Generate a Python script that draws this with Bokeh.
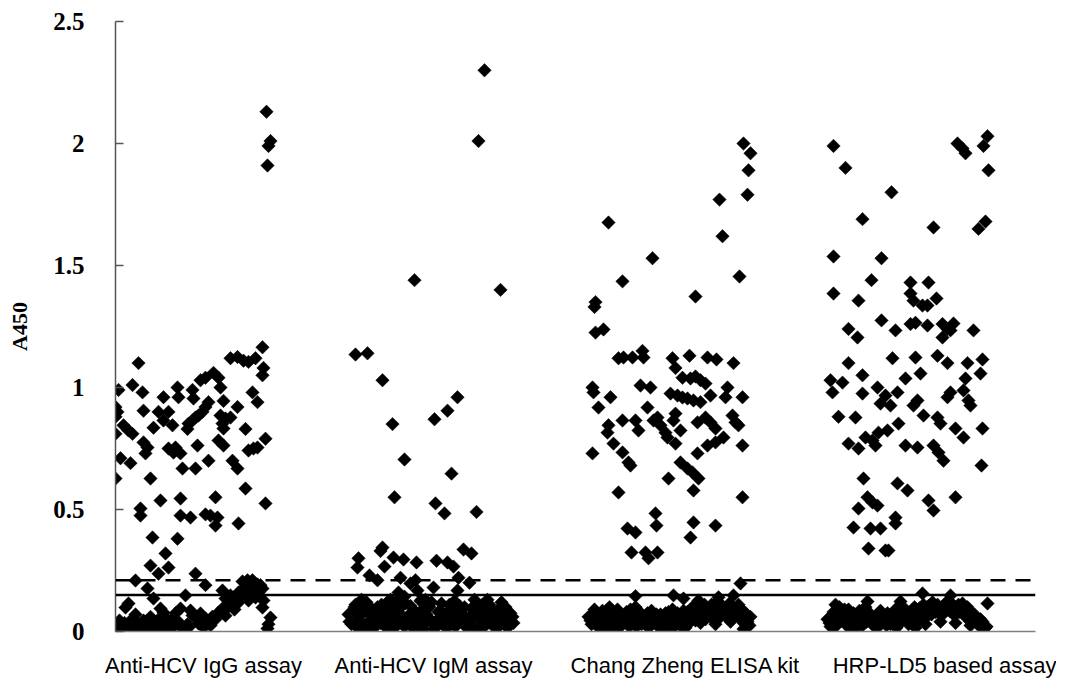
import numpy as np
from bokeh.plotting import figure
from bokeh.models import Range1d, Span, FixedTicker, ColumnDataSource
from bokeh.embed import file_html
from bokeh.resources import INLINE

# ---------------- data ----------------
categories = ["Anti-HCV IgG assay", "Anti-HCV IgM assay", "Chang Zheng ELISA kit", "HRP-LD5 based assay"]
category_pos = [8.8, 31.8, 57.0, 83.2]
y_ticks = [0, 0.5, 1, 1.5, 2, 2.5]
y_tick_labels = ["0", "0.5", "1", "1.5", "2", "2.5"]
cutoff_solid = 0.15
cutoff_dashed = 0.21

g1_x = [15.1, 15.5, 15.3, 15.2, 14.7, 11.5, 12.2, 12.8, 13.3, 14.0, 2.3, 14.8, 14.7, 9.8, 10.3, 10.5, 8.5, 9.0,
        1.7, 0.3, 6.2, 6.3, 7.7, 7.8, 2.7, 4.8, 13.7, 14.2, 10.8, 12.2, 9.3, 9.0, 8.7, 8.3, 8.0, 7.7, 7.3,
        0.0, 0.2, 0.0, 2.8, 4.3, 5.3, 4.8, 5.7, 3.8, 10.5, 11.0, 11.5, 10.7, 10.8, 0.8, 1.3, 1.7, 0.0, 7.2,
        13.0, 15.0, 2.8, 3.2, 3.0, 5.3, 6.0, 6.5, 5.8, 8.2, 10.3, 10.8, 13.3, 13.8, 14.2, 0.5, 1.5, 9.3, 11.7,
        12.2, 6.7, 8.0, 0.0, 3.5, 13.0, 4.5, 6.5, 10.0, 15.0, 2.5, 2.5, 6.5, 7.5, 9.0, 9.5, 10.2, 10.0, 12.3,
        3.7, 6.2, 5.0, 3.5, 5.3, 4.3, 8.0, 2.0, 9.0, 3.2,
        12.7, 13.2, 13.7, 14.2, 13.5, 12.8, 13.8, 14.3, 14.7, 13.0, 12.3, 14.0, 13.3,
        3.8, 7.0, 10.7, 11.0, 11.5, 11.8, 12.2, 1.3, 1.0, 4.5, 4.8, 5.0, 6.5, 7.5, 7.7, 8.5, 9.0, 9.7, 10.3,
        10.7, 11.3, 14.8, 14.7, 15.5, 15.2, 15.3,
        0.2, 0.6, 1.1, 1.6, 2.1, 2.6, 3.1, 3.6, 4.1, 4.5, 5.0, 5.5, 5.9, 6.3, 6.8, 7.2, 5.8, 4.3, 8.3, 8.8,
        9.5, 0.4, 2.8, 1.4]
g1_y = [2.13, 2.01, 1.99, 1.91, 1.165, 1.12, 1.125, 1.11, 1.105, 1.12, 1.10, 1.08, 1.05, 1.06, 1.04, 1.00, 1.03,
        1.04, 1.01, 0.99, 1.00, 0.96, 0.99, 0.955, 0.98, 0.96, 0.98, 0.94, 0.945, 0.92, 0.94, 0.92, 0.90, 0.885,
        0.877, 0.865, 0.852, 0.92, 0.90, 0.88, 0.905, 0.90, 0.90, 0.865, 0.845, 0.835, 0.885, 0.873, 0.877,
        0.852, 0.832, 0.845, 0.824, 0.81, 0.81, 0.83, 0.83, 0.79, 0.775, 0.754, 0.73, 0.75, 0.754, 0.73, 0.733,
        0.762, 0.783, 0.762, 0.742, 0.75, 0.754, 0.71, 0.69, 0.70, 0.70, 0.668, 0.668, 0.668, 0.627, 0.627,
        0.586, 0.537, 0.545, 0.55, 0.525, 0.504, 0.475, 0.475, 0.467, 0.48, 0.475, 0.467, 0.434, 0.443,
        0.385, 0.38, 0.32, 0.27, 0.262, 0.237, 0.237, 0.209, 0.19, 0.176,
        0.205, 0.21, 0.21, 0.193, 0.18, 0.176, 0.168, 0.16, 0.176, 0.148, 0.16, 0.139, 0.127,
        0.135, 0.148, 0.168, 0.135, 0.148, 0.127, 0.115, 0.115, 0.098, 0.094, 0.078, 0.057, 0.094, 0.086,
        0.066, 0.074, 0.053, 0.061, 0.078, 0.094, 0.102, 0.127, 0.098, 0.057, 0.012, 0.03,
        0.025, 0.012, 0.02, 0.008, 0.03, 0.012, 0.025, 0.008, 0.035, 0.016, 0.03, 0.008, 0.025, 0.04, 0.012,
        0.03, 0.053, 0.049, 0.033, 0.016, 0.025, 0.045, 0.045, 0.04]
g1_x_low = [0.4, 0.9, 1.4, 1.9, 2.4, 2.9, 3.4, 3.9, 4.4, 4.9, 5.4, 5.9, 6.4, 6.9, 7.4, 2.0, 3.5, 6.0, 8.0, 9.2,
            10.0, 11.0, 11.9, 12.5, 13.5, 14.5]
g1_y_low = [0.01, 0.035, 0.015, 0.045, 0.02, 0.04, 0.015, 0.03, 0.01, 0.045, 0.02, 0.035, 0.025, 0.005, 0.02,
            0.07, 0.06, 0.075, 0.06, 0.04, 0.05, 0.065, 0.09, 0.13, 0.2, 0.19]

g2_x = [36.9, 36.3, 29.9, 38.5, 24.0, 25.2, 26.7, 27.7, 31.9, 33.2, 34.2, 28.9, 33.6, 27.9, 32.0, 32.9, 36.1,
        26.7, 26.5, 34.8, 35.6, 24.3, 24.2, 27.8, 28.8, 30.1, 32.1, 33.2, 33.8, 26.9, 25.4, 26.2, 28.5, 29.5,
        30.0, 31.8, 34.3, 35.4, 34.2, 28.3, 30.2, 28.9,
        23.3, 23.6, 23.9, 24.2, 24.5, 24.8, 25.1, 25.4, 25.7, 26.0, 26.3, 26.6, 26.9, 27.2, 27.5, 27.8, 28.1,
        28.4, 28.7, 29.0, 29.3, 29.6, 29.9, 30.2, 30.5, 30.8, 31.1, 31.4, 31.7, 32.0, 32.3, 32.6, 32.9, 33.2,
        33.5, 33.8, 34.1, 34.4, 34.7, 35.0, 35.3, 35.6, 35.9, 36.2, 36.5, 36.8, 37.1, 37.4, 37.7, 38.0, 38.3,
        38.6, 38.9, 39.2, 39.5, 39.8,
        24.0, 25.0, 26.5, 28.0, 29.5, 31.0, 32.5, 34.0, 35.5, 37.0, 38.5, 39.0, 27.0, 30.0, 33.0, 36.0]
g2_y = [2.30, 2.01, 1.44, 1.40, 1.135, 1.14, 1.03, 0.85, 0.87, 0.905, 0.96, 0.705, 0.647, 0.55, 0.525, 0.484,
        0.49, 0.344, 0.33, 0.336, 0.32, 0.30, 0.262, 0.303, 0.295, 0.283, 0.29, 0.283, 0.266, 0.266, 0.23,
        0.21, 0.22, 0.197, 0.21, 0.18, 0.22, 0.20, 0.168, 0.16, 0.168, 0.143,
        0.07, 0.03, 0.10, 0.05, 0.015, 0.08, 0.12, 0.04, 0.09, 0.02, 0.06, 0.11, 0.035, 0.075, 0.13, 0.01,
        0.055, 0.095, 0.03, 0.115, 0.065, 0.02, 0.085, 0.045, 0.125, 0.01, 0.07, 0.10, 0.04, 0.02, 0.08,
        0.115, 0.05, 0.015, 0.09, 0.06, 0.03, 0.105, 0.07, 0.02, 0.045, 0.095, 0.13, 0.06, 0.01, 0.08, 0.04,
        0.11, 0.025, 0.065, 0.09, 0.12, 0.045, 0.015, 0.075, 0.035,
        0.11, 0.01, 0.09, 0.12, 0.04, 0.13, 0.06, 0.085, 0.01, 0.12, 0.03, 0.10, 0.02, 0.05, 0.03, 0.10]
g2_x_low = [23.4, 23.8, 24.1, 24.4, 24.7, 25.0, 25.3, 25.6, 25.9, 26.2, 26.5, 26.8, 27.1, 27.4, 27.7, 28.0,
            28.3, 28.6, 28.9, 29.2, 29.5, 29.8, 30.1, 30.4, 30.7, 31.0, 31.3, 31.6, 31.9, 32.2, 32.5, 32.8,
            33.1, 33.4, 33.7, 34.0, 34.3, 34.6, 34.9, 35.2, 35.5, 35.8, 36.1, 36.4, 36.7, 37.0, 37.3, 37.6,
            37.9, 38.2, 38.5, 38.8, 39.1, 39.4, 39.7, 24.6, 27.3, 30.6, 33.9, 37.2]
g2_y_low = [0.04, 0.085, 0.02, 0.065, 0.11, 0.03, 0.075, 0.01, 0.055, 0.10, 0.035, 0.07, 0.015, 0.095, 0.05,
            0.03, 0.08, 0.12, 0.02, 0.06, 0.105, 0.04, 0.015, 0.07, 0.09, 0.035, 0.055, 0.12, 0.01, 0.045,
            0.085, 0.025, 0.065, 0.11, 0.04, 0.02, 0.075, 0.05, 0.10, 0.03, 0.065, 0.015, 0.085, 0.045, 0.11,
            0.025, 0.06, 0.09, 0.04, 0.015, 0.07, 0.10, 0.05, 0.03, 0.06, 0.13, 0.125, 0.13, 0.125, 0.13]

g3_x = [62.8, 63.5, 63.3, 63.2, 60.4, 49.3, 60.7, 53.7, 50.7, 62.4, 58.0, 48.0, 47.9, 48.0, 48.8, 50.3, 50.8,
        51.7, 52.7, 52.8, 55.7, 57.4, 59.2, 60.1, 61.8, 56.0, 56.7, 57.5, 58.0, 58.5, 59.0, 47.7, 47.8, 49.5,
        52.5, 53.5, 55.5, 56.2, 56.7, 57.2, 57.8, 58.5, 59.5, 61.2, 61.0, 62.7, 48.3, 53.2, 54.2, 53.8, 50.7,
        49.3, 49.2, 52.0, 52.3, 54.5, 55.0, 56.0, 55.8, 56.5, 58.2, 59.0, 59.5, 60.0, 61.7, 62.0, 62.3, 60.8,
        55.2, 49.8, 50.7, 51.3, 51.5, 47.7, 56.0, 59.2, 60.0, 62.7, 58.2, 56.5, 57.2, 57.7, 58.3, 55.3, 50.3,
        57.8, 62.7, 54.0, 54.1, 51.2, 52.0, 57.8, 60.0, 57.5, 51.6, 53.0, 53.3, 54.2, 62.5,
        52.0, 55.8, 56.8, 58.3, 60.3, 61.8,
        47.3, 47.6, 47.9, 48.2, 48.5, 48.8, 49.1, 49.4, 49.7, 50.0, 50.3, 50.6, 50.9, 51.2, 51.5, 51.8, 52.1,
        52.4, 52.7, 53.0, 53.3, 53.6, 53.9, 54.2, 54.5, 54.8, 55.1, 55.4, 55.7, 56.0, 56.3, 56.6, 56.9, 57.2,
        57.5, 57.8, 58.1, 58.4, 58.7, 59.0, 59.3, 59.6, 59.9, 60.2, 60.5, 60.8, 61.1, 61.4, 61.7, 62.0, 62.3,
        62.6, 62.9, 63.2, 63.5, 62.8,
        48.0, 49.0, 50.5, 52.0, 53.5, 55.0, 57.0, 58.5, 60.0, 61.5]
g3_y = [2.00, 1.96, 1.89, 1.79, 1.77, 1.676, 1.62, 1.53, 1.435, 1.455, 1.373, 1.35, 1.33, 1.225, 1.238, 1.12,
        1.123, 1.123, 1.15, 1.123, 1.12, 1.13, 1.123, 1.115, 1.10, 1.08, 1.04, 1.037, 1.045, 1.03, 1.016, 1.00,
        0.98, 0.96, 1.008, 1.00, 0.975, 0.967, 0.959, 0.955, 0.947, 0.94, 0.967, 1.00, 0.96, 0.96, 0.918,
        0.918, 0.877, 0.865, 0.865, 0.845, 0.815, 0.865, 0.824, 0.845, 0.815, 0.893, 0.865, 0.824, 0.857,
        0.877, 0.857, 0.832, 0.885, 0.857, 0.845, 0.795, 0.795, 0.77, 0.734, 0.693, 0.68, 0.73, 0.77, 0.762,
        0.775, 0.762, 0.73, 0.693, 0.668, 0.652, 0.627, 0.627, 0.57, 0.578, 0.55, 0.484, 0.434, 0.422, 0.406,
        0.447, 0.434, 0.385, 0.324, 0.324, 0.30, 0.324, 0.197,
        0.145, 0.148, 0.135, 0.127, 0.14, 0.148,
        0.06, 0.03, 0.09, 0.05, 0.02, 0.07, 0.04, 0.10, 0.06, 0.01, 0.08, 0.045, 0.065, 0.03, 0.09, 0.055,
        0.02, 0.075, 0.04, 0.06, 0.015, 0.085, 0.05, 0.03, 0.07, 0.045, 0.01, 0.06, 0.09, 0.035, 0.065, 0.02,
        0.05, 0.08, 0.04, 0.06, 0.09, 0.07, 0.10, 0.05, 0.085, 0.11, 0.07, 0.095, 0.06, 0.10, 0.08, 0.115,
        0.09, 0.07, 0.11, 0.05, 0.08, 0.04, 0.06, 0.01,
        0.08, 0.015, 0.02, 0.10, 0.035, 0.075, 0.015, 0.035, 0.03, 0.04]
g3_x_low = [47.5, 47.8, 48.1, 48.4, 48.7, 49.0, 49.3, 49.6, 49.9, 50.2, 50.5, 50.8, 51.1, 51.4, 51.7, 52.0,
            52.3, 52.6, 52.9, 53.2, 53.5, 53.8, 54.1, 54.4, 54.7, 55.0, 55.3, 55.6, 55.9, 56.2, 56.5, 56.8,
            57.1, 57.4, 57.7, 58.0, 58.3, 58.6, 58.9, 59.2, 59.5, 59.8, 60.1, 60.4, 60.7, 61.0, 61.3, 61.6,
            61.9, 62.2, 62.5, 62.8, 63.1, 63.4]
g3_y_low = [0.045, 0.075, 0.025, 0.06, 0.085, 0.035, 0.07, 0.015, 0.05, 0.09, 0.03, 0.055, 0.08, 0.02, 0.065,
            0.04, 0.085, 0.03, 0.055, 0.075, 0.025, 0.05, 0.07, 0.015, 0.055, 0.035, 0.08, 0.04, 0.02, 0.075,
            0.05, 0.085, 0.03, 0.06, 0.10, 0.045, 0.075, 0.055, 0.11, 0.08, 0.06, 0.095, 0.12, 0.085, 0.105,
            0.065, 0.09, 0.10, 0.06, 0.085, 0.095, 0.035, 0.07, 0.025]

g4_x = [71.8, 84.2, 84.7, 85.0, 87.2, 86.8, 73.0, 87.3, 77.6, 74.7, 81.8, 87.0, 86.3, 71.8, 76.6, 75.6, 79.5,
        79.5, 79.8, 80.7, 81.2, 81.3, 82.1, 71.8, 74.3, 76.6, 73.3, 74.2, 78.0, 79.5, 80.0, 81.2, 82.7, 83.2,
        83.8, 82.7, 83.5, 85.8, 73.3, 77.7, 80.0, 82.2, 83.2, 85.2, 86.7, 86.5, 71.5, 71.7, 72.7, 74.7, 74.7,
        79.0, 80.5, 76.2, 77.0, 76.5, 77.5, 78.2, 80.2, 79.8, 83.5, 83.2, 85.0, 84.8, 85.3, 85.5, 72.3, 74.0,
        78.3, 80.8, 82.2, 82.5, 84.0, 84.8, 86.7, 75.0, 75.7, 76.0, 76.3, 77.2, 73.3, 74.3, 79.0, 80.2, 81.8,
        82.3, 82.8, 86.6, 74.8, 78.2, 79.2, 84.0, 75.2, 75.7, 76.2, 74.3, 81.3, 81.8, 78.0, 78.0, 73.8, 75.5,
        76.5, 75.3, 77.0, 77.3,
        75.2, 78.5, 80.7, 83.5, 87.2,
        71.2, 71.5, 71.8, 72.1, 72.4, 72.7, 73.0, 73.3, 73.6, 73.9, 74.2, 74.5, 74.8, 75.1, 75.4, 75.7, 76.0,
        76.3, 76.6, 76.9, 77.2, 77.5, 77.8, 78.1, 78.4, 78.7, 79.0, 79.3, 79.6, 79.9, 80.2, 80.5, 80.8, 81.1,
        81.4, 81.7, 82.0, 82.3, 82.6, 82.9, 83.2, 83.5, 83.8, 84.1, 84.4, 84.7, 85.0, 85.3, 85.6, 85.9, 86.2,
        86.5, 86.8, 87.1,
        72.0, 73.5, 75.0, 76.5, 78.0, 80.0, 81.0, 82.5, 84.0, 85.5]
g4_y = [1.99, 2.00, 1.98, 1.96, 2.03, 1.99, 1.90, 1.89, 1.80, 1.69, 1.656, 1.68, 1.65, 1.537, 1.53, 1.44, 1.43,
        1.385, 1.356, 1.336, 1.336, 1.43, 1.365, 1.385, 1.356, 1.275, 1.24, 1.205, 1.234, 1.26, 1.265, 1.254,
        1.26, 1.24, 1.262, 1.205, 1.234, 1.234, 1.10, 1.12, 1.123, 1.13, 1.10, 1.10, 1.115, 1.057, 1.03, 0.98,
        1.02, 1.05, 0.975, 1.037, 1.057, 1.00, 0.967, 0.934, 0.926, 0.98, 0.947, 0.926, 0.98, 0.96, 1.037,
        0.988, 0.947, 0.926, 0.88, 0.877, 0.852, 0.885, 0.877, 0.852, 0.832, 0.795, 0.832, 0.795, 0.783,
        0.762, 0.815, 0.824, 0.77, 0.75, 0.762, 0.754, 0.762, 0.734, 0.70, 0.68, 0.627, 0.607, 0.578, 0.55,
        0.55, 0.529, 0.516, 0.504, 0.537, 0.496, 0.467, 0.443, 0.426, 0.422, 0.422, 0.34, 0.332, 0.332,
        0.123, 0.123, 0.156, 0.148, 0.115,
        0.05, 0.02, 0.08, 0.04, 0.10, 0.06, 0.03, 0.09, 0.05, 0.07, 0.02, 0.06, 0.09, 0.04, 0.07, 0.03, 0.055,
        0.02, 0.06, 0.04, 0.075, 0.03, 0.05, 0.015, 0.07, 0.045, 0.09, 0.03, 0.06, 0.10, 0.04, 0.075, 0.11,
        0.06, 0.09, 0.12, 0.08, 0.10, 0.065, 0.11, 0.09, 0.12, 0.07, 0.10, 0.08, 0.115, 0.06, 0.09, 0.05,
        0.07, 0.03, 0.05, 0.01, 0.02,
        0.11, 0.01, 0.10, 0.085, 0.09, 0.015, 0.03, 0.04, 0.035, 0.025]
g4_x_low = [71.4, 71.7, 72.0, 72.3, 72.6, 72.9, 73.2, 73.5, 73.8, 74.1, 74.4, 74.7, 75.0, 75.3, 75.6, 75.9,
            76.2, 76.5, 76.8, 77.1, 77.4, 77.7, 78.0, 78.3, 78.6, 78.9, 79.2, 79.5, 79.8, 80.1, 80.4, 80.7,
            81.0, 81.3, 81.6, 81.9, 82.2, 82.5, 82.8, 83.1, 83.4, 83.7, 84.0, 84.3, 84.6, 84.9, 85.2, 85.5,
            85.8, 86.1, 86.4, 86.7, 87.0]
g4_y_low = [0.035, 0.065, 0.02, 0.075, 0.045, 0.09, 0.06, 0.03, 0.075, 0.04, 0.085, 0.025, 0.055, 0.08, 0.045,
            0.02, 0.07, 0.035, 0.055, 0.025, 0.06, 0.045, 0.07, 0.03, 0.055, 0.075, 0.04, 0.08, 0.055, 0.07,
            0.095, 0.05, 0.08, 0.105, 0.07, 0.095, 0.11, 0.075, 0.09, 0.12, 0.085, 0.10, 0.07, 0.11, 0.09,
            0.075, 0.10, 0.04, 0.065, 0.05, 0.03, 0.04, 0.015]

groups = [(g1_x + g1_x_low, g1_y + g1_y_low),
          (g2_x + g2_x_low, g2_y + g2_y_low),
          (g3_x + g3_x_low, g3_y + g3_y_low),
          (g4_x + g4_x_low, g4_y + g4_y_low)]

# ---------------- figure ----------------
p = figure(width=1056, height=685, output_backend="svg", toolbar_location=None,
           x_range=Range1d(0, 92), y_range=Range1d(0, 2.5),
           min_border_left=115, min_border_right=21, min_border_top=21, min_border_bottom=54)
p.outline_line_color = None
p.xgrid.grid_line_color = None
p.ygrid.grid_line_color = None
p.background_fill_color = "white"
p.border_fill_color = "white"

for gx, gy in groups:
    src = ColumnDataSource(data=dict(x=gx, y=gy))
    p.scatter("x", "y", source=src, marker="square", angle=np.pi / 4, size=9.5,
              fill_color="black", line_color="black", line_width=0.5)

p.add_layout(Span(location=cutoff_solid, dimension="width", line_color="black", line_width=2.5))
p.add_layout(Span(location=cutoff_dashed, dimension="width", line_color="black", line_width=2.5,
                  line_dash="15 10"))

# y axis
yax = p.yaxis[0]
yax.ticker = FixedTicker(ticks=y_ticks)
yax.major_label_overrides = {t: l for t, l in zip(y_ticks, y_tick_labels)}
yax.minor_tick_line_color = None
yax.major_tick_in = 8
yax.major_tick_out = 0
yax.major_tick_line_color = "#555555"
yax.major_tick_line_width = 1.5
yax.axis_line_color = "#555555"
yax.axis_line_width = 1.5
yax.major_label_text_font = "Liberation Serif"
yax.major_label_text_font_style = "bold"
yax.major_label_text_font_size = "25px"
yax.major_label_text_color = "black"
yax.major_label_standoff = 31
yax.axis_label = "A450"
yax.axis_label_text_font = "Liberation Serif"
yax.axis_label_text_font_style = "bold"
yax.axis_label_text_font_size = "22px"
yax.axis_label_text_color = "black"
yax.axis_label_standoff = 18

# x axis
xax = p.xaxis[0]
xax.ticker = FixedTicker(ticks=category_pos)
xax.major_label_overrides = {pos: c for pos, c in zip(category_pos, categories)}
xax.minor_tick_line_color = None
xax.major_tick_line_color = None
xax.axis_line_color = "#808080"
xax.axis_line_width = 1.5
xax.major_label_text_font = "Liberation Sans"
xax.major_label_text_font_size = "22px"
xax.major_label_text_color = "black"
xax.major_label_standoff = 15

open("out.html", "w").write(file_html(p, INLINE))
